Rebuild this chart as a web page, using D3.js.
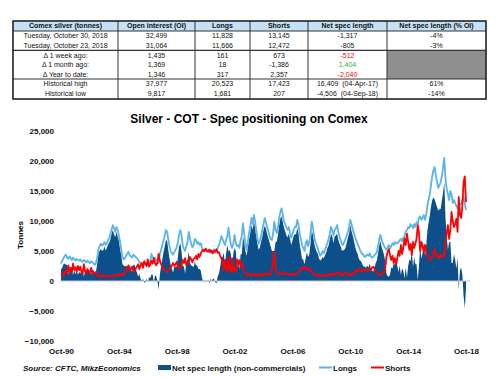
<!DOCTYPE html>
<html lang="en">
<head>
<meta charset="UTF-8">
<script src="https://d3js.org/d3.v7.min.js"></script>
<style>
    body { margin: 0; background: #fff; font-family: Arial, "Liberation Sans", sans-serif; }
    svg { display: block; }
    .cell { font-size: 7px; }
    .head { font-size: 7px; font-weight: bold; fill: #111; }
    .axis text { font-size: 8px; font-weight: bold; fill: #111; }
    .legend text { font-size: 8px; font-weight: bold; fill: #111; }
</style>
</head>
<body>
<svg width="499" height="378"></svg>
<script>
// ---- table ----
const tableHeader = ["Comex silver (tonnes)", "Open interest (OI)", "Longs", "Shorts", "Net spec length", "Net spec length (% OI)"];
const tableRows = [
    ["Tuesday, October 30, 2018", "32,499", "11,828", "13,145", "-1,317", "-4%"],
    ["Tuesday, October 23, 2018", "31,064", "11,666", "12,472", "-805", "-3%"],
    ["\u0394 1 week ago:", "1,435", "161", "673", "-512", ""],
    ["\u0394 1 month ago:", "1,369", "18", "-1,386", "1,404", ""],
    ["\u0394 Year to date:", "1,346", "317", "2,357", "-2,040", ""],
    ["Historical high", "37,977", "20,523", "17,423", "16,409\u00a0\u00a0(04-Apr-17)", "61%"],
    ["Historical low", "9,817", "1,681", "207", "-4,506\u00a0\u00a0(04-Sep-18)", "-14%"]
];

// ---- chart series (tonnes, monthly, Oct-1990 .. Oct-2018) ----
const longs = [
    2900, 3400, 3700,
    4200, 4400, 3900, 3700, 4100, 3800, 3500, 3900, 3600, 3400, 3700, 3500,
    3400, 3600, 3300, 3200, 3500, 3300, 3100, 3400, 3200, 3000, 3300, 3100,
    2900, 2700, 3000, 3800, 5200, 5800, 6200, 5900, 6100, 6500, 6000, 6300,
    6800, 7200, 7800, 8600, 9300, 8800, 8200, 9000, 8500, 7600, 6500, 5200,
    4000, 3600, 3800, 4200, 4500, 4900, 4300, 4100, 3900, 4400, 4200, 4000,
    3800, 3500, 3200, 3000, 2800, 2600, 3000, 2700, 2900, 3400, 3000, 3200,
    4500, 4000, 3600, 3900, 3400, 3200, 3000, 4500, 5200, 6000, 6800, 7500,
    8500, 8200, 7000, 5800, 5000, 4600, 4400, 4800, 5200, 5600, 6500, 7800,
    8500, 7600, 6000, 5400, 5000, 5800, 6500, 8200, 7000, 6200, 5600, 6000,
    7000, 6800, 6200, 6500, 6000, 6300, 5500, 5000, 5200, 5300, 4900, 5100,
    4800, 5200, 4900, 5000, 5300, 4700, 4900, 5500, 6000, 6500, 7500, 7000,
    6500, 6000, 6800, 7500, 8900, 7200, 6000, 5500, 6200, 7700, 6400, 5800,
    6000, 5500, 6800, 7500, 9600, 8000, 6200, 5200, 6500, 8000, 9000, 10500,
    9500, 11000, 10000, 8500, 7000, 6200, 6800, 7500, 8500, 9500, 10500, 9800,
    9000, 8200, 7500, 7000, 6800, 8000, 9900, 8500, 8000, 9000, 10500, 11500,
    12100, 11000, 10000, 9500, 9000, 8500, 9000, 8000, 7200, 7800, 8500, 9000,
    9000, 10200, 9500, 8000, 7000, 6000, 5500, 5000, 6200, 6800, 5800, 6500,
    8000, 9900, 9000, 7500, 6500, 6000, 5500, 4800, 4200, 4500, 5000, 4600,
    5200, 5800, 6300, 7000, 7800, 9000, 8500, 7600, 8500, 8800, 9300, 8200,
    7400, 6800, 6200, 6000, 6500, 7000, 7500, 8200, 9000, 10200, 9500, 8600,
    8000, 7200, 6800, 6200, 5800, 5200, 4800, 4500, 4300, 4000, 4200, 4400,
    4200, 4600, 4100, 3900, 4000, 4300, 4500, 4800, 5800, 7000, 7700, 6800,
    6300, 5800, 5500, 5200, 5600, 6000, 5400, 5800, 6300, 6000, 6500, 6200,
    6300, 6500, 6800, 7000, 6600, 7200, 7500, 8200, 8500, 9000, 8800, 9500,
    9200, 8800, 9500, 9000, 9800, 9500, 10500, 10800, 10200, 10500, 11000, 10200,
    11000, 12700, 13500, 14500, 16000, 17500, 18500, 19000, 17500, 16500, 15500, 16000,
    16500, 17500, 19000, 20500, 17000, 15400, 14500, 13500, 15000, 14500, 13000, 13500,
    13000, 12500, 12100, 12500, 12700, 12800, 13500, 14000, 12900, 11828
];
const shorts = [
    1000, 1200, 900,
    1300, 1700, 1200, 2600, 1500, 2200, 1400, 2900, 1800, 2300, 1600, 2500,
    1800, 2400, 1500, 1300, 2800, 1600, 1200, 2000, 1500, 1400, 2200, 1300,
    1100, 1300, 1500, 1000, 800, 700, 900, 800, 1000, 700, 900, 800,
    700, 800, 900, 700, 800, 1000, 900, 800, 1100, 900, 1200, 1000,
    1200, 1000, 1400, 1600, 2200, 2600, 1800, 2000, 2400, 1700, 1500, 2100,
    2400, 2800, 2000, 2600, 3000, 2200, 3300, 2900, 2500, 3600, 2400, 2700,
    3400, 2900, 3800, 3000, 2600, 3100, 4500, 3400, 2800, 2400, 2000, 1800,
    1700, 1500, 1800, 2000, 2300, 2600, 3000, 2500, 2800, 3200, 2400, 2000,
    2200, 2800, 3500, 3000, 3800, 2600, 2900, 3300, 4000, 3600, 3100, 3700,
    3800, 4200, 3600, 4500, 4000, 4600, 5000, 5200, 5000, 5400, 5000, 4900,
    5200, 4800, 5100, 4600, 5000, 4900, 5300, 4700, 4800, 4200, 3800, 3000,
    1800, 3500, 2200, 1500, 4000, 2000, 1600, 3800, 1500, 2200, 1400, 3600,
    2800, 3500, 2400, 3000, 2200, 1600, 1200, 1000, 900, 1100, 1000, 1200,
    1000, 900, 1200, 1100, 800, 1000, 1200, 900, 1100, 1000, 1300, 1100,
    1200, 1100, 1000, 1300, 1800, 3000, 4900, 2000, 1400, 1300, 1200, 1100,
    1300, 1200, 1100, 1200, 1400, 1200, 1100, 1000, 1200, 1100, 1000, 1200,
    1200, 1300, 1500, 1800, 2000, 2300, 1900, 2200, 2400, 2000, 1800, 2100,
    1800, 1500, 1300, 1200, 1000, 1100, 900, 1000, 800, 900, 1000, 800,
    900, 1000, 800, 1100, 900, 1200, 1000, 1300, 1100, 1200, 1400, 1300,
    1200, 1000, 1100, 900, 1300, 1500, 1200, 1000, 1100, 900, 1200, 1000,
    1300, 1500, 1800, 1600, 2000, 1800, 1500, 1700, 1900, 1600, 2000, 1800,
    2000, 1700, 1900, 2200, 2400, 2100, 1600, 1400, 1200, 1100, 1000, 1200,
    1300, 1500, 2200, 4000, 4800, 5300, 4300, 3500, 4200, 3000, 3800, 2800,
    3800, 5000, 4200, 6000, 4500, 5500, 7100, 6000, 7900, 6500, 5200, 6200,
    4300, 6500, 5500, 6200, 7000, 9300, 8000, 5000, 6500, 5800, 4800, 6000,
    5000, 4200, 3800, 3500, 3600, 4000, 4600, 5400, 4600, 4200, 3800, 4000,
    4500, 4000, 4200, 4100, 6500, 8000, 9300, 7000, 8500, 11500, 10000, 9000,
    9500, 10400, 8200, 14000, 11000, 10500, 12500, 16500, 17423, 13145
];
const yTicks = [25000, 20000, 15000, 10000, 5000, 0, -5000, -10000];
const xTickLabels = ["Oct-90", "Oct-94", "Oct-98", "Oct-02", "Oct-06", "Oct-10", "Oct-14", "Oct-18"];

const svg = d3.select("svg");

// ---------- table ----------
const colEdges = [13, 118, 195, 250, 308, 387, 486];
const rowEdges = [31, 40.7, 50.3, 59.9, 69.5, 79, 89, 99];
const tableTop = 21;
const tbl = svg.append("g");

tbl.append("rect")
    .attr("x", colEdges[0]).attr("y", tableTop)
    .attr("width", colEdges[6] - colEdges[0]).attr("height", rowEdges[0] - tableTop)
    .attr("fill", "#c5e1f5");
// grey block in the % OI column for the delta rows
tbl.append("rect")
    .attr("x", colEdges[5]).attr("y", rowEdges[2])
    .attr("width", colEdges[6] - colEdges[5]).attr("height", rowEdges[5] - rowEdges[2])
    .attr("fill", "#8f8f8f");

tableHeader.forEach((h, j) => {
    tbl.append("text").attr("class", "head")
        .attr("x", (colEdges[j] + colEdges[j + 1]) / 2)
        .attr("y", (tableTop + rowEdges[0]) / 2)
        .attr("dy", "0.35em").attr("text-anchor", "middle")
        .text(h);
});
tableRows.forEach((row, i) => {
    row.forEach((v, j) => {
        let fill = "#111";
        if (j === 4 && i >= 2 && i <= 4) fill = v.startsWith("-") ? "#ff0000" : "#3aa83a";
        tbl.append("text").attr("class", "cell")
            .attr("x", (colEdges[j] + colEdges[j + 1]) / 2)
            .attr("y", (rowEdges[i] + rowEdges[i + 1]) / 2)
            .attr("dy", "0.35em").attr("text-anchor", "middle")
            .style("fill", fill)
            .text(v);
    });
});
// grid lines
colEdges.slice(1, -1).forEach(x => {
    tbl.append("line").attr("x1", x).attr("x2", x).attr("y1", tableTop).attr("y2", rowEdges[7])
        .attr("stroke", "#333").attr("stroke-width", 1);
});
[rowEdges[0], rowEdges[2], rowEdges[5]].forEach(y => {
    tbl.append("line").attr("x1", colEdges[0]).attr("x2", colEdges[6]).attr("y1", y).attr("y2", y)
        .attr("stroke", "#333").attr("stroke-width", 1.2);
});
tbl.append("rect")
    .attr("x", colEdges[0]).attr("y", tableTop)
    .attr("width", colEdges[6] - colEdges[0]).attr("height", rowEdges[7] - tableTop)
    .attr("fill", "none").attr("stroke", "#222").attr("stroke-width", 1.6);

// ---------- chart ----------
svg.append("text")
    .attr("x", 249).attr("y", 123)
    .attr("text-anchor", "middle")
    .style("font-size", "12px").style("font-weight", "bold")
    .text("Silver - COT - Spec positioning on Comex");

const dates = d3.timeMonth.range(new Date(1990, 9, 1), new Date(2018, 10, 1));
const n = Math.min(dates.length, longs.length, shorts.length);
const data = d3.range(n).map(i => ({
    date: dates[i],
    longs: longs[i],
    shorts: shorts[i],
    net: longs[i] - shorts[i]
}));

const x = d3.scaleTime()
    .domain([new Date(1990, 9, 1), new Date(2018, 9, 1)])
    .range([61, 466]);
const y = d3.scaleLinear()
    .domain([-10000, 25000])
    .range([341, 131]);

svg.append("path")
    .datum(data)
    .attr("fill", "#0d4f8b")
    .attr("d", d3.area().x(d => x(d.date)).y0(y(0)).y1(d => y(d.net)));

svg.append("line")
    .attr("x1", 61).attr("x2", 470).attr("y1", y(0)).attr("y2", y(0))
    .attr("stroke", "#c0c8d0").attr("stroke-width", 1);

svg.append("path")
    .datum(data)
    .attr("fill", "none").attr("stroke", "#5ab4e8").attr("stroke-width", 1.8)
    .attr("stroke-linejoin", "round")
    .attr("d", d3.line().x(d => x(d.date)).y(d => y(d.longs)));

svg.append("path")
    .datum(data)
    .attr("fill", "none").attr("stroke", "#ff0000").attr("stroke-width", 1.8)
    .attr("stroke-linejoin", "round")
    .attr("d", d3.line().x(d => x(d.date)).y(d => y(d.shorts)));

// axes (labels only)
const yAxis = svg.append("g").attr("class", "axis")
    .attr("transform", "translate(58,0)")
    .call(d3.axisLeft(y).tickValues(yTicks).tickFormat(d3.format(",")).tickSize(0).tickPadding(4));
yAxis.select(".domain").remove();

const xTickDates = xTickLabels.map(s => d3.timeParse("%b-%y")(s));
const xAxis = svg.append("g").attr("class", "axis")
    .attr("transform", "translate(0,345)")
    .call(d3.axisBottom(x).tickValues(xTickDates).tickFormat(d3.timeFormat("%b-%y")).tickSize(0).tickPadding(3));
xAxis.select(".domain").remove();

svg.append("text")
    .attr("transform", "translate(23,235) rotate(-90)")
    .attr("text-anchor", "middle")
    .style("font-size", "8px").style("font-weight", "bold")
    .text("Tonnes");

// legend
const lg = svg.append("g").attr("class", "legend");
lg.append("text").attr("x", 23).attr("y", 370.5)
    .style("font-style", "italic")
    .text("Source: CFTC, MikzEconomics");
lg.append("rect").attr("x", 158).attr("y", 365).attr("width", 13).attr("height", 5).attr("fill", "#0d4f8b");
lg.append("text").attr("x", 172).attr("y", 370.5).text("Net spec length (non-commercials)");
lg.append("line").attr("x1", 319).attr("x2", 332).attr("y1", 367.5).attr("y2", 367.5)
    .attr("stroke", "#5ab4e8").attr("stroke-width", 2);
lg.append("text").attr("x", 333).attr("y", 370.5).text("Longs");
lg.append("line").attr("x1", 371).attr("x2", 384).attr("y1", 367.5).attr("y2", 367.5)
    .attr("stroke", "#ff0000").attr("stroke-width", 2);
lg.append("text").attr("x", 385).attr("y", 370.5).text("Shorts");
</script>
</body>
</html>
